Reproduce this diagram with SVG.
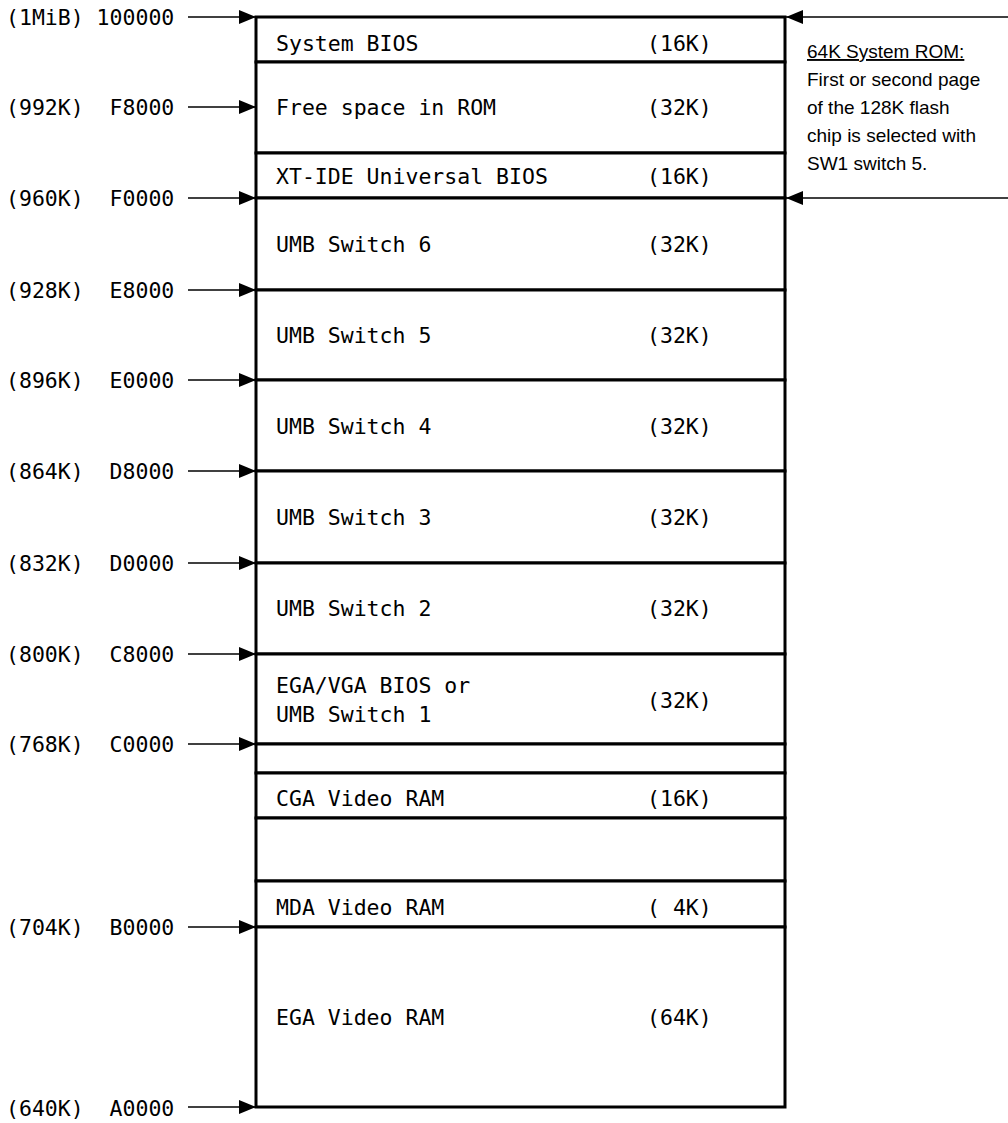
<svg xmlns="http://www.w3.org/2000/svg" width="1008" height="1123" viewBox="0 0 1008 1123">
<style>
.box{fill:#fff;stroke:#000;stroke-width:3}
.mono{font-family:"DejaVu Sans Mono","Liberation Mono",monospace;font-size:21.5px;fill:#000;white-space:pre}
.note{font-family:"Liberation Sans",Arial,sans-serif;font-size:19px;fill:#000}
.conn{stroke:#000;stroke-width:1.4;fill:none}
</style>
<defs>
<marker id="ah" viewBox="0 0 17 14" refX="17" refY="7" markerWidth="17" markerHeight="14" markerUnits="userSpaceOnUse" orient="auto">
<path d="M0,0 L17,7 L0,14 Z" fill="#000"/>
</marker>
</defs>
<rect width="1008" height="1123" fill="#fff"/>
<g id="nodes">
<g id="n-sysbios"><rect class="box" x="256" y="17" width="529" height="45"/><text class="mono" x="276" y="51">System BIOS</text><text class="mono" x="647" y="51">(16K)</text></g>
<g id="n-free"><rect class="box" x="256" y="62" width="529" height="91"/><text class="mono" x="276" y="115">Free space in ROM</text><text class="mono" x="647" y="115">(32K)</text></g>
<g id="n-xtide"><rect class="box" x="256" y="153" width="529" height="45"/><text class="mono" x="276" y="184">XT-IDE Universal BIOS</text><text class="mono" x="647" y="184">(16K)</text></g>
<g id="n-umb6"><rect class="box" x="256" y="198" width="529" height="92"/><text class="mono" x="276" y="252">UMB Switch 6</text><text class="mono" x="647" y="252">(32K)</text></g>
<g id="n-umb5"><rect class="box" x="256" y="290" width="529" height="90"/><text class="mono" x="276" y="343">UMB Switch 5</text><text class="mono" x="647" y="343">(32K)</text></g>
<g id="n-umb4"><rect class="box" x="256" y="380" width="529" height="91"/><text class="mono" x="276" y="434">UMB Switch 4</text><text class="mono" x="647" y="434">(32K)</text></g>
<g id="n-umb3"><rect class="box" x="256" y="471" width="529" height="92"/><text class="mono" x="276" y="525">UMB Switch 3</text><text class="mono" x="647" y="525">(32K)</text></g>
<g id="n-umb2"><rect class="box" x="256" y="563" width="529" height="91"/><text class="mono" x="276" y="616">UMB Switch 2</text><text class="mono" x="647" y="616">(32K)</text></g>
<g id="n-egabios"><rect class="box" x="256" y="654" width="529" height="90"/><text class="mono" x="276" y="693">EGA/VGA BIOS or</text><text class="mono" x="276" y="722">UMB Switch 1</text><text class="mono" x="647" y="708">(32K)</text></g>
<g id="n-gap1"><rect class="box" x="256" y="744" width="529" height="29"/></g>
<g id="n-cga"><rect class="box" x="256" y="773" width="529" height="45"/><text class="mono" x="276" y="806">CGA Video RAM</text><text class="mono" x="647" y="806">(16K)</text></g>
<g id="n-gap2"><rect class="box" x="256" y="818" width="529" height="63"/></g>
<g id="n-mda"><rect class="box" x="256" y="881" width="529" height="46"/><text class="mono" x="276" y="915">MDA Video RAM</text><text class="mono" x="647" y="915" xml:space="preserve">( 4K)</text></g>
<g id="n-egaram"><rect class="box" x="256" y="927" width="529" height="180"/><text class="mono" x="276" y="1025">EGA Video RAM</text><text class="mono" x="647" y="1025">(64K)</text></g>
</g>
<g id="labels">
<text class="mono" x="6" y="25" xml:space="preserve">(1MiB) 100000</text>
<text class="mono" x="6" y="115" xml:space="preserve">(992K)  F8000</text>
<text class="mono" x="6" y="206" xml:space="preserve">(960K)  F0000</text>
<text class="mono" x="6" y="298" xml:space="preserve">(928K)  E8000</text>
<text class="mono" x="6" y="388" xml:space="preserve">(896K)  E0000</text>
<text class="mono" x="6" y="479" xml:space="preserve">(864K)  D8000</text>
<text class="mono" x="6" y="571" xml:space="preserve">(832K)  D0000</text>
<text class="mono" x="6" y="662" xml:space="preserve">(800K)  C8000</text>
<text class="mono" x="6" y="752" xml:space="preserve">(768K)  C0000</text>
<text class="mono" x="6" y="935" xml:space="preserve">(704K)  B0000</text>
<text class="mono" x="6" y="1116" xml:space="preserve">(640K)  A0000</text>
</g>
<g id="note">
<text class="note" x="807" y="58" text-decoration="underline">64K System ROM:</text>
<text class="note" x="807" y="86">First or second page</text>
<text class="note" x="807" y="114">of the 128K flash</text>
<text class="note" x="807" y="142">chip is selected with</text>
<text class="note" x="807" y="170">SW1 switch 5.</text>
</g>
<g id="connectors">
<line class="conn" x1="188" y1="17" x2="256" y2="17" marker-end="url(#ah)"/>
<line class="conn" x1="188" y1="107" x2="256" y2="107" marker-end="url(#ah)"/>
<line class="conn" x1="188" y1="198" x2="256" y2="198" marker-end="url(#ah)"/>
<line class="conn" x1="188" y1="290" x2="256" y2="290" marker-end="url(#ah)"/>
<line class="conn" x1="188" y1="380" x2="256" y2="380" marker-end="url(#ah)"/>
<line class="conn" x1="188" y1="471" x2="256" y2="471" marker-end="url(#ah)"/>
<line class="conn" x1="188" y1="563" x2="256" y2="563" marker-end="url(#ah)"/>
<line class="conn" x1="188" y1="654" x2="256" y2="654" marker-end="url(#ah)"/>
<line class="conn" x1="188" y1="744" x2="256" y2="744" marker-end="url(#ah)"/>
<line class="conn" x1="188" y1="927" x2="256" y2="927" marker-end="url(#ah)"/>
<line class="conn" x1="188" y1="1107" x2="256" y2="1107" marker-end="url(#ah)"/>
<line class="conn" x1="1008" y1="17" x2="786" y2="17" marker-end="url(#ah)"/>
<line class="conn" x1="1008" y1="198" x2="786" y2="198" marker-end="url(#ah)"/>
</g>
</svg>
